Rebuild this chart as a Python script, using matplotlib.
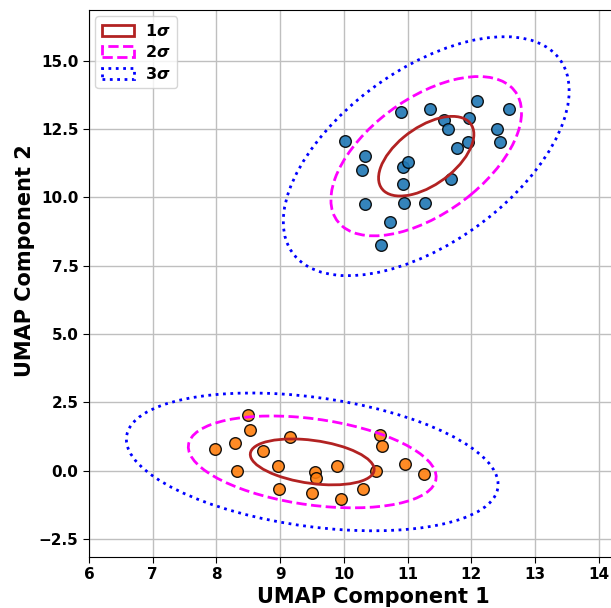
import numpy as np
import matplotlib
matplotlib.use("Agg")
import matplotlib.pyplot as plt
from matplotlib.patches import Ellipse
import matplotlib.transforms as transforms

plt.rcParams["font.family"] = "DejaVu Sans"
plt.rcParams["font.weight"] = "bold"
plt.rcParams["mathtext.fontset"] = "custom"
plt.rcParams["mathtext.rm"] = "DejaVu Sans:bold"
plt.rcParams["mathtext.it"] = "DejaVu Sans:italic:bold"

# cluster A (blue)
blue_x = [10.02, 10.33, 10.28, 10.33, 10.73, 10.59, 10.89, 11.35, 10.93, 11.01, 10.93, 10.95,
          11.28, 11.69, 11.78, 11.95, 11.58, 11.63, 11.96, 12.09, 12.40, 12.45, 12.60]
blue_y = [12.05, 11.50, 11.01, 9.75, 9.09, 8.27, 13.13, 13.22, 11.12, 11.30, 10.50, 9.80,
          9.80, 10.68, 11.82, 12.01, 12.84, 12.51, 12.91, 13.53, 12.51, 12.01, 13.23]
# cluster B (orange)
orange_x = [7.98, 8.29, 8.33, 8.49, 8.53, 8.73, 8.96, 8.98, 9.15, 9.54, 9.56, 9.50,
            9.90, 9.95, 10.30, 10.51, 10.56, 10.60, 10.96, 11.26]
orange_y = [0.79, 1.00, 0.00, 2.04, 1.50, 0.73, 0.19, -0.67, 1.24, -0.04, -0.26, -0.82,
            0.18, -1.04, -0.67, 0.00, 1.32, 0.90, 0.25, -0.11]

sigmas = [1, 2, 3]
sigma_labels = [r"$1\sigma$", r"$2\sigma$", r"$3\sigma$"]
sigma_colors = ["firebrick", "magenta", "blue"]
sigma_styles = ["-", "--", ":"]


def confidence_ellipse(x, y, ax, n_std, **kw):
    x, y = np.asarray(x), np.asarray(y)
    cov = np.cov(x, y)
    pearson = cov[0, 1] / np.sqrt(cov[0, 0] * cov[1, 1])
    rx, ry = np.sqrt(1 + pearson), np.sqrt(1 - pearson)
    ell = Ellipse((0, 0), width=rx * 2, height=ry * 2, facecolor="none", **kw)
    tr = (transforms.Affine2D().rotate_deg(45)
          .scale(np.sqrt(cov[0, 0]) * n_std, np.sqrt(cov[1, 1]) * n_std)
          .translate(x.mean(), y.mean()))
    ell.set_transform(tr + ax.transData)
    return ax.add_patch(ell)


fig = plt.figure(figsize=(6.11, 6.08), dpi=100)
ax = fig.add_axes([0.1457, 0.0839, 0.857, 0.8997])

ax.scatter(blue_x, blue_y, s=70, color="C0", alpha=0.9, edgecolor="black", linewidth=1, zorder=3)
ax.scatter(orange_x, orange_y, s=70, color="C1", alpha=0.9, edgecolor="black", linewidth=1, zorder=3)

for xs, ys in [(blue_x, blue_y), (orange_x, orange_y)]:
    for n, lab, c, ls in zip(sigmas, sigma_labels, sigma_colors, sigma_styles):
        confidence_ellipse(xs, ys, ax, n, edgecolor=c, linestyle=ls, linewidth=2,
                           label=lab if xs is blue_x else None, zorder=4)

ax.set_xlim(6, 14.22)
ax.set_ylim(-3.15, 16.85)
ax.set_xticks(range(6, 15))
ax.grid(True, color="0.75", linewidth=1)
ax.set_axisbelow(True)
ax.tick_params(labelsize=11, length=4)
ax.set_xlabel("UMAP Component 1", fontsize=15, fontweight="bold")
ax.set_ylabel("UMAP Component 2", fontsize=15, fontweight="bold")
ax.xaxis.set_label_coords(0.543, -0.0555)
ax.yaxis.set_label_coords(-0.103, 0.541)
ax.legend(loc="upper left", fontsize=11.5, labelspacing=0.35, handletextpad=0.7,
          borderaxespad=0.4)

fig.savefig("out.png", dpi=100)
